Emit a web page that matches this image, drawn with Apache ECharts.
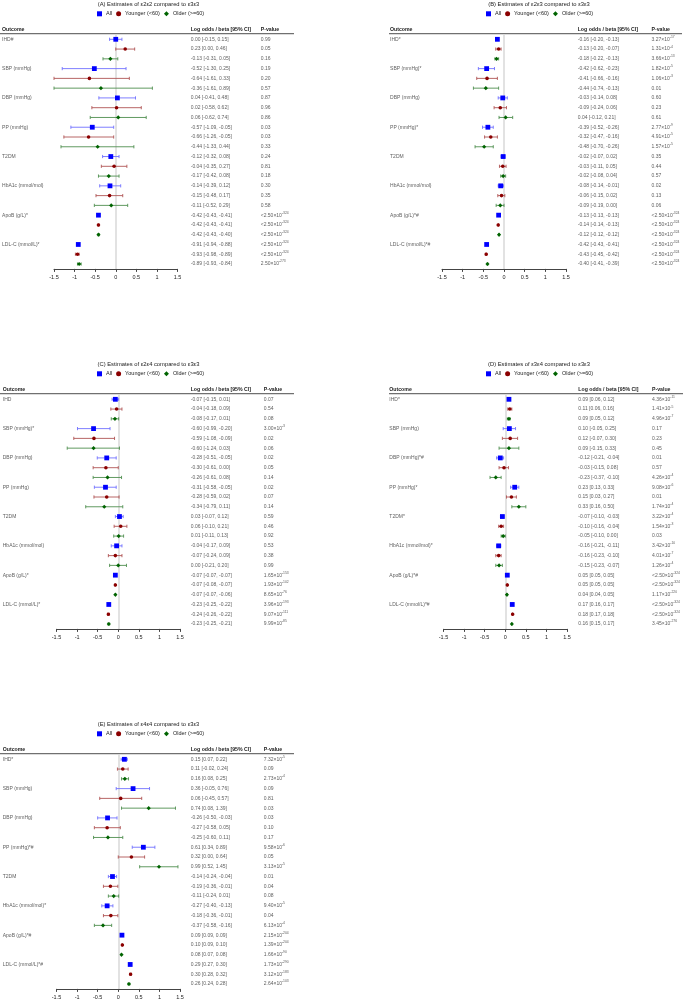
<!DOCTYPE html>
<html><head><meta charset="utf-8">
<script src="https://cdn.jsdelivr.net/npm/echarts@6/dist/echarts.min.js"></script>
<style>html,body{margin:0;padding:0;background:#fff}#c{width:685px;height:1005px}</style>
</head><body><div id="c"></div>
<script>
// ---------------- DATA ----------------
const groupNames = ['All', 'Younger (<60)', 'Older (>=60)'];
const tickLabels = ['-1.5', '-1', '-0.5', '0', '0.5', '1', '1.5'];
const titles = [
  '(A) Estimates of ε2ε2 compared to ε3ε3',
  '(B) Estimates of ε2ε3 compared to ε3ε3',
  '(C) Estimates of ε2ε4 compared to ε3ε3',
  '(D) Estimates of ε3ε4 compared to ε3ε3',
  '(E) Estimates of ε4ε4 compared to ε3ε3'
];
const outcomesA = ['IHD#', 'SBP (mmHg)', 'DBP (mmHg)', 'PP (mmHg)', 'T2DM', 'HbA1c (mmol/mol)', 'ApoB (g/L)*', 'LDL-C (mmol/L)*'];
const outcomesB = ['IHD*', 'SBP (mmHg)*', 'DBP (mmHg)', 'PP (mmHg)*', 'T2DM', 'HbA1c (mmol/mol)', 'ApoB (g/L)*#', 'LDL-C (mmol/L)*#'];
const outcomesC = ['IHD', 'SBP (mmHg)*', 'DBP (mmHg)', 'PP (mmHg)', 'T2DM', 'HbA1c (mmol/mol)', 'ApoB (g/L)*', 'LDL-C (mmol/L)*'];
const outcomesD = ['IHD*', 'SBP (mmHg)', 'DBP (mmHg)*#', 'PP (mmHg)*', 'T2DM*', 'HbA1c (mmol/mol)*', 'ApoB (g/L)*#', 'LDL-C (mmol/L)*#'];
const outcomesE = ['IHD*', 'SBP (mmHg)', 'DBP (mmHg)', 'PP (mmHg)*#', 'T2DM', 'HbA1c (mmol/mol)*', 'ApoB (g/L)*#', 'LDL-C (mmol/L)*#'];

// [estimate, lower, upper]
const A_all   = [[0.00,-0.15,0.15],[-0.52,-1.30,0.25],[0.04,-0.41,0.48],[-0.57,-1.09,-0.05],[-0.12,-0.32,0.08],[-0.14,-0.39,0.12],[-0.42,-0.43,-0.41],[-0.91,-0.94,-0.88]];
const A_young = [[0.23,0.00,0.46],[-0.64,-1.61,0.33],[0.02,-0.58,0.62],[-0.66,-1.26,-0.05],[-0.04,-0.35,0.27],[-0.15,-0.48,0.17],[-0.42,-0.43,-0.41],[-0.93,-0.98,-0.89]];
const A_old   = [[-0.13,-0.31,0.05],[-0.36,-1.61,0.89],[0.06,-0.62,0.74],[-0.44,-1.33,0.44],[-0.17,-0.42,0.08],[-0.11,-0.52,0.29],[-0.42,-0.43,-0.40],[-0.89,-0.93,-0.84]];
const A_all_p   = ['0.99','0.19','0.87','0.03','0.24','0.30','<2.50e-324','<2.50e-324'];
const A_young_p = ['0.05','0.20','0.96','0.03','0.81','0.35','<2.50e-324','<2.50e-324'];
const A_old_p   = ['0.16','0.57','0.86','0.33','0.18','0.58','<2.50e-324','2.50e-273'];

const B_all   = [[-0.16,-0.20,-0.13],[-0.42,-0.62,-0.23],[-0.03,-0.14,0.08],[-0.39,-0.52,-0.26],[-0.02,-0.07,0.02],[-0.08,-0.14,-0.01],[-0.13,-0.13,-0.13],[-0.42,-0.43,-0.41]];
const B_young = [[-0.13,-0.20,-0.07],[-0.41,-0.66,-0.16],[-0.09,-0.24,0.06],[-0.32,-0.47,-0.16],[-0.03,-0.11,0.05],[-0.06,-0.15,0.02],[-0.14,-0.14,-0.13],[-0.43,-0.45,-0.42]];
const B_old   = [[-0.18,-0.22,-0.13],[-0.44,-0.74,-0.13],[0.04,-0.12,0.21],[-0.48,-0.70,-0.26],[-0.02,-0.08,0.04],[-0.09,-0.19,0.00],[-0.12,-0.12,-0.12],[-0.40,-0.41,-0.39]];
const B_all_p   = ['3.27e-17','1.82e-5','0.60','2.77e-9','0.35','0.02','<2.50e-324','<2.50e-324'];
const B_young_p = ['1.31e-4','1.06e-3','0.23','4.91e-5','0.44','0.13','<2.50e-324','<2.50e-324'];
const B_old_p   = ['3.66e-13','0.01','0.61','1.57e-5','0.57','0.06','<2.50e-324','<2.50e-324'];

const C_all   = [[-0.07,-0.15,0.01],[-0.60,-0.99,-0.20],[-0.28,-0.51,-0.05],[-0.31,-0.58,-0.05],[0.03,-0.07,0.12],[-0.04,-0.17,0.09],[-0.07,-0.07,-0.07],[-0.23,-0.25,-0.22]];
const C_young = [[-0.04,-0.18,0.09],[-0.59,-1.08,-0.09],[-0.30,-0.61,0.00],[-0.28,-0.59,0.02],[0.06,-0.10,0.21],[-0.07,-0.24,0.09],[-0.07,-0.08,-0.07],[-0.24,-0.26,-0.22]];
const C_old   = [[-0.08,-0.17,0.01],[-0.60,-1.24,0.03],[-0.26,-0.61,0.08],[-0.34,-0.79,0.11],[0.01,-0.11,0.13],[0.00,-0.21,0.20],[-0.07,-0.07,-0.06],[-0.23,-0.25,-0.21]];
const C_all_p   = ['0.07','3.00e-3','0.02','0.02','0.59','0.53','1.65e-153','3.96e-193'];
const C_young_p = ['0.54','0.02','0.05','0.07','0.46','0.38','1.93e-102','9.07e-111'];
const C_old_p   = ['0.08','0.06','0.14','0.14','0.92','0.99','8.65e-76','9.99e-85'];

const D_all   = [[0.09,0.06,0.12],[0.10,-0.05,0.25],[-0.12,-0.21,-0.04],[0.23,0.13,0.33],[-0.07,-0.10,-0.03],[-0.16,-0.21,-0.11],[0.05,0.05,0.05],[0.17,0.16,0.17]];
const D_young = [[0.11,0.06,0.16],[0.12,-0.07,0.30],[-0.03,-0.15,0.08],[0.15,0.03,0.27],[-0.10,-0.16,-0.04],[-0.16,-0.23,-0.10],[0.05,0.05,0.05],[0.18,0.17,0.18]];
const D_old   = [[0.09,0.05,0.12],[0.09,-0.15,0.33],[-0.23,-0.37,-0.10],[0.33,0.16,0.50],[-0.05,-0.10,0.00],[-0.15,-0.23,-0.07],[0.04,0.04,0.05],[0.16,0.15,0.17]];
const D_all_p   = ['4.36e-11','0.17','0.01','9.08e-6','3.22e-4','3.42e-10','<2.50e-324','<2.50e-324'];
const D_young_p = ['1.41e-5','0.23','0.57','0.01','1.54e-3','4.01e-7','<2.50e-324','<2.50e-324'];
const D_old_p   = ['4.96e-7','0.45','4.26e-4','1.74e-4','0.03','1.26e-4','1.17e-220','3.45e-276'];

const E_all   = [[0.15,0.07,0.22],[0.36,-0.05,0.76],[-0.26,-0.50,-0.03],[0.61,0.34,0.89],[-0.14,-0.24,-0.04],[-0.27,-0.40,-0.13],[0.09,0.09,0.09],[0.29,0.27,0.30]];
const E_young = [[0.11,-0.02,0.24],[0.06,-0.45,0.57],[-0.27,-0.58,0.05],[0.32,0.00,0.64],[-0.19,-0.36,-0.01],[-0.18,-0.36,-0.01],[0.10,0.09,0.10],[0.30,0.28,0.32]];
const E_old   = [[0.16,0.08,0.25],[0.74,0.08,1.39],[-0.25,-0.60,0.11],[0.99,0.52,1.45],[-0.11,-0.24,0.01],[-0.37,-0.58,-0.16],[0.08,0.07,0.08],[0.26,0.24,0.28]];
const E_all_p   = ['7.32e-5','0.09','0.03','9.58e-6','0.01','9.40e-5','2.15e-204','1.73e-290'];
const E_young_p = ['0.09','0.81','0.10','0.05','0.04','0.04','1.39e-204','3.12e-183'];
const E_old_p   = ['2.73e-4','0.03','0.17','3.13e-5','0.08','6.13e-4','1.66e-90','2.64e-103'];

// ---------------- LAYOUT / STYLE ----------------
const FONT = '"Liberation Sans", Arial, sans-serif';
const panels = [
  {title: titles[0], outcomes: outcomesA, sets: [A_all, A_young, A_old], ps: [A_all_p, A_young_p, A_old_p]},
  {title: titles[1], outcomes: outcomesB, sets: [B_all, B_young, B_old], ps: [B_all_p, B_young_p, B_old_p]},
  {title: titles[2], outcomes: outcomesC, sets: [C_all, C_young, C_old], ps: [C_all_p, C_young_p, C_old_p]},
  {title: titles[3], outcomes: outcomesD, sets: [D_all, D_young, D_old], ps: [D_all_p, D_young_p, D_old_p]},
  {title: titles[4], outcomes: outcomesE, sets: [E_all, E_young, E_old], ps: [E_all_p, E_young_p, E_old_p]}
];
const layouts = [
  {oy: 0,   ax0: 54,    ax1: 177.5, outX: 2,     estX: 190.7, pX: 260.7, l0: 0,   l1: 294, tcx: 148.5, legX: 97},
  {oy: 0,   ax0: 442,   ax1: 566,   outX: 390,   estX: 577.7, pX: 651.5, l0: 389, l1: 682, tcx: 539,   legX: 486},
  {oy: 360, ax0: 56.5,  ax1: 180,   outX: 2.7,   estX: 190.7, pX: 263.7, l0: 0,   l1: 294, tcx: 148.5, legX: 97},
  {oy: 360, ax0: 443.5, ax1: 567,   outX: 389.3, estX: 578.3, pX: 652,   l0: 389, l1: 683, tcx: 539,   legX: 486},
  {oy: 720, ax0: 56.5,  ax1: 180,   outX: 2.7,   estX: 190.7, pX: 263.7, l0: 0,   l1: 294, tcx: 148.5, legX: 97}
];
const ROW0 = 39.3, STEP = 9.77, NROWS = 24;
const styles = [
  {shape: 'rect',    color: '#0000ff', line: '#7070ff', size: 4.8},
  {shape: 'circle',  color: '#8b0000', line: '#b05555', size: 3.6},
  {shape: 'diamond', color: '#006400', line: '#4f8f4f', size: 4.2}
];
const legendIcons = ['rect', 'circle', 'diamond'];
const XMIN = -1.5, XMAX = 1.5;

function fmtP(p) {
  if (p.indexOf('e') < 0) return p;
  const parts = p.split('e');
  return '{n|' + parts[0] + '×10}{s|' + parts[1] + '}';
}
function fmtEst(t) {
  return t[0].toFixed(2) + ' [' + t[1].toFixed(2) + ', ' + t[2].toFixed(2) + ']';
}
function renderer(st) {
  return function (params, api) {
    const row = api.value(3);
    const lo = Math.max(api.value(1), XMIN), hi = Math.min(api.value(2), XMAX);
    const pl = api.coord([lo, row]), ph = api.coord([hi, row]), pc = api.coord([api.value(0), row]);
    const cap = 1.6;
    const ls = {stroke: st.line, lineWidth: 0.9};
    const ch = [
      {type: 'line', shape: {x1: pl[0], y1: pl[1], x2: ph[0], y2: ph[1]}, style: ls},
      {type: 'line', shape: {x1: pl[0], y1: pl[1] - cap, x2: pl[0], y2: pl[1] + cap}, style: ls},
      {type: 'line', shape: {x1: ph[0], y1: ph[1] - cap, x2: ph[0], y2: ph[1] + cap}, style: ls}
    ];
    const s = st.size, cx = pc[0], cy = pc[1];
    if (st.shape === 'rect') ch.push({type: 'rect', shape: {x: cx - s / 2, y: cy - s / 2, width: s, height: s}, style: {fill: st.color}});
    else if (st.shape === 'circle') ch.push({type: 'circle', shape: {cx: cx, cy: cy, r: s / 2}, style: {fill: st.color}});
    else ch.push({type: 'polygon', shape: {points: [[cx, cy - s / 2], [cx + s / 2, cy], [cx, cy + s / 2], [cx - s / 2, cy]]}, style: {fill: st.color}});
    return {type: 'group', children: ch};
  };
}

const grid = [], xAxis = [], yAxis = [], series = [], legend = [], graphic = [];

panels.forEach((P, i) => {
  const L = layouts[i];
  const top = L.oy + ROW0 - STEP / 2;
  const height = NROWS * STEP;
  const gPlot = grid.length;
  grid.push({left: L.ax0, top: top, width: L.ax1 - L.ax0, height: height, containLabel: false});
  xAxis.push({gridIndex: gPlot, type: 'value', min: XMIN, max: XMAX, interval: 0.5,
    axisLine: {show: true, onZero: false, lineStyle: {color: '#444', width: 1}},
    axisTick: {show: true, length: 3, lineStyle: {color: '#444'}},
    splitLine: {show: false},
    axisLabel: {fontSize: 5.5, color: '#222', fontFamily: FONT, margin: 6,
      formatter: v => tickLabels[Math.round((v - XMIN) / 0.5)]}});
  yAxis.push({gridIndex: gPlot, type: 'value', min: -0.5, max: NROWS - 0.5, inverse: true, show: false});
  const gText = grid.length;
  grid.push({left: 0, right: 0, top: top, height: height, containLabel: false});
  xAxis.push({gridIndex: gText, type: 'value', min: 0, max: 685, show: false});
  yAxis.push({gridIndex: gText, type: 'value', min: -0.5, max: NROWS - 0.5, inverse: true, show: false});

  P.sets.forEach((set, k) => {
    const st = styles[k];
    const data = set.map((t, g) => [t[0], t[1], t[2], g * 3 + k]);
    series.push({
      type: 'custom', name: groupNames[k], xAxisIndex: gPlot, yAxisIndex: gPlot,
      renderItem: renderer(st), data: data, encode: {x: [0, 1, 2], y: 3},
      itemStyle: {color: st.color}, z: 5, silent: true
    });
  });
  // zero reference line
  series.push({
    type: 'line', xAxisIndex: gPlot, yAxisIndex: gPlot, data: [], silent: true, z: 1,
    markLine: {silent: true, symbol: 'none', label: {show: false}, animation: false,
      lineStyle: {color: '#d8d8d8', width: 1.5, type: 'solid'}, data: [{xAxis: 0}]}
  });

  // table text
  const pos = [], texts = [];
  P.outcomes.forEach((o, g) => { pos.push([L.outX, g * 3]); texts.push(o); });
  P.sets.forEach((set, k) => set.forEach((t, g) => { pos.push([L.estX, g * 3 + k]); texts.push(fmtEst(t)); }));
  P.ps.forEach((arr, k) => arr.forEach((p, g) => { pos.push([L.pX, g * 3 + k]); texts.push(fmtP(p)); }));
  series.push({
    type: 'scatter', xAxisIndex: gText, yAxisIndex: gText, data: pos, symbolSize: 0.1,
    itemStyle: {color: 'rgba(0,0,0,0)'}, silent: true, z: 6,
    label: {show: true, position: 'right', distance: 0, formatter: p => texts[p.dataIndex],
      fontSize: 5, fontFamily: FONT, color: '#333',
      rich: {
        n: {fontSize: 5, fontFamily: FONT, color: '#333', lineHeight: 8, verticalAlign: 'middle'},
        s: {fontSize: 3.4, fontFamily: FONT, color: '#333', lineHeight: 3.4, verticalAlign: 'top'}
      }}
  });

  legend.push({
    left: L.legX, top: L.oy + 10.8, padding: 0, itemWidth: 5, itemHeight: 5, itemGap: 4,
    selectedMode: false,
    textStyle: {fontSize: 5.5, fontFamily: FONT, color: '#222', padding: [0, 0, 0, -1]},
    data: groupNames.map((n, k) => ({name: n, icon: legendIcons[k]}))
  });

  graphic.push({type: 'text', x: L.tcx, y: L.oy + 4, style: {text: P.title, font: '5.8px ' + FONT, fill: '#222', align: 'center', verticalAlign: 'middle'}});
  graphic.push({type: 'text', x: L.outX, y: L.oy + 29.6, style: {text: 'Outcome', font: 'bold 5.2px ' + FONT, fill: '#222', align: 'left', verticalAlign: 'middle'}});
  graphic.push({type: 'text', x: L.estX, y: L.oy + 29.6, style: {text: 'Log odds / beta [95% CI]', font: 'bold 5.2px ' + FONT, fill: '#222', align: 'left', verticalAlign: 'middle'}});
  graphic.push({type: 'text', x: L.pX, y: L.oy + 29.6, style: {text: 'P-value', font: 'bold 5.2px ' + FONT, fill: '#222', align: 'left', verticalAlign: 'middle'}});
  graphic.push({type: 'line', shape: {x1: L.l0, y1: L.oy + 33.7, x2: L.l1, y2: L.oy + 33.7}, style: {stroke: '#707070', lineWidth: 1.2}});
});

const chart = echarts.init(document.getElementById('c'), null, {renderer: 'canvas'});
chart.setOption({
  backgroundColor: '#fff', animation: false,
  grid: grid, xAxis: xAxis, yAxis: yAxis, series: series, legend: legend, graphic: graphic
});
</script></body></html>
